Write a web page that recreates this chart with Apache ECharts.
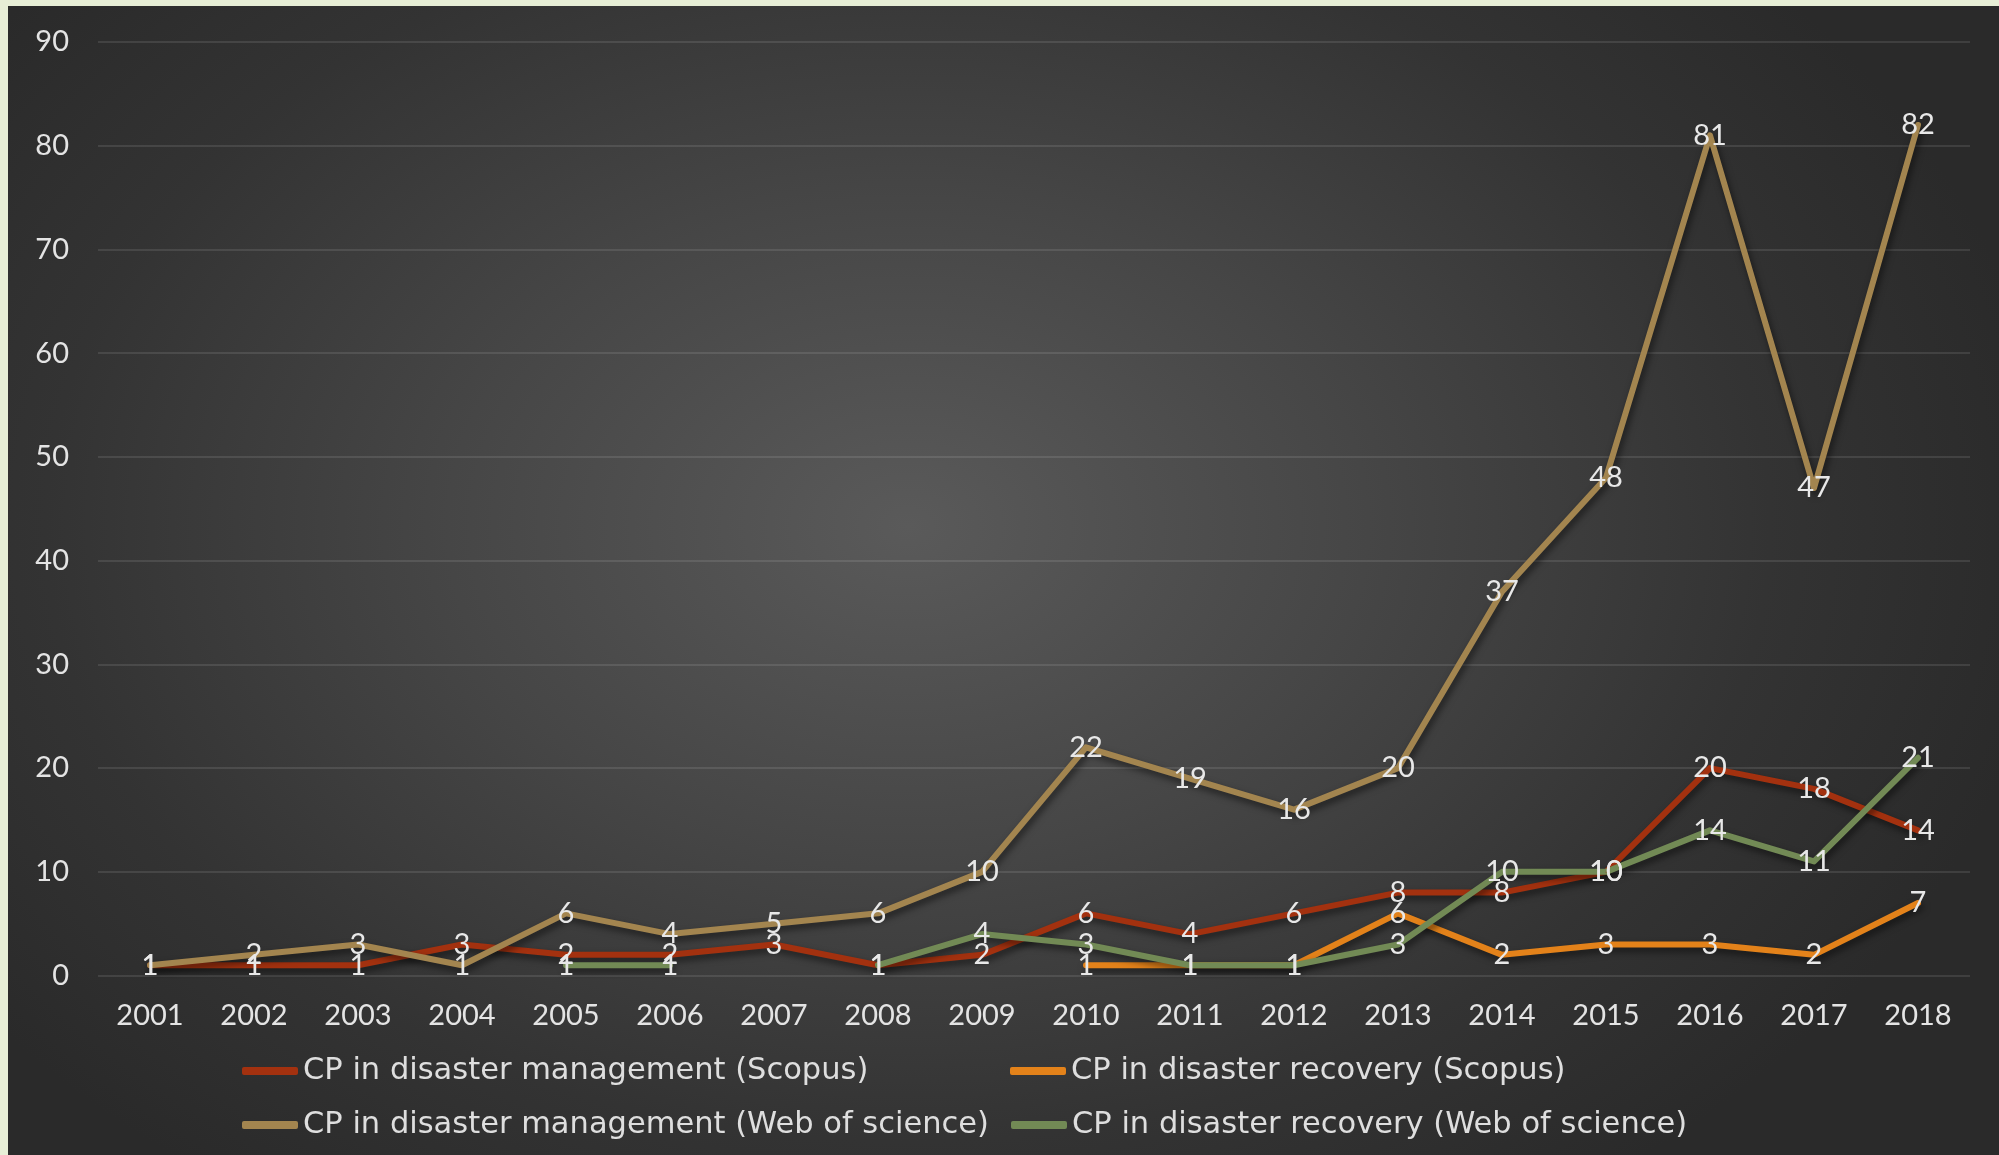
<!DOCTYPE html>
<html>
<head>
<meta charset="utf-8">
<script src="https://cdn.jsdelivr.net/npm/echarts@6/dist/echarts.min.js"></script>
<style>
html,body{margin:0;padding:0;background:#e7eed6;width:1999px;height:1155px;overflow:hidden;}
#bg{position:absolute;left:8px;top:6px;width:1991px;height:1149px;
background:radial-gradient(ellipse 1150px 820px at 900px 520px,#5a5a5a 0%,#464646 40%,#333 75%,#2a2a2a 100%);}
#main{position:absolute;left:0;top:0;width:1999px;height:1155px;}
</style>
</head>
<body>
<div id="bg"></div>
<div id="main"></div>
<script>
const years = ['2001','2002','2003','2004','2005','2006','2007','2008','2009','2010','2011','2012','2013','2014','2015','2016','2017','2018'];
const mgmtScopus = [1,1,1,3,2,2,3,1,2,6,4,6,8,8,10,20,18,14];
const recScopus = [null,null,null,null,null,null,null,null,null,1,1,1,6,2,3,3,2,7];
const mgmtWos = [1,2,3,1,6,4,5,6,10,22,19,16,20,37,48,81,47,82];
const recWos = [null,null,null,null,1,1,null,1,4,3,1,1,3,10,10,14,11,21];
const seriesNames = ['CP in disaster management (Scopus)','CP in disaster recovery (Scopus)','CP in disaster management (Web of science)','CP in disaster recovery (Web of science)'];
const colors = ['#a3310f','#e3821a','#a3854f','#728a55'];
const seriesData = [mgmtScopus, recScopus, mgmtWos, recWos];

const FONT = 'Lato';
const txt = '#e4e4e4';

const chart = echarts.init(document.getElementById('main'), null, {renderer:'canvas'});

const legendPos = [[242,1053],[1010,1053],[242,1107],[1011,1107]];
const legends = seriesNames.map((n,i)=>({
  data:[{name:n, icon:'roundRect', itemStyle:{color:colors[i]}}],
  left:legendPos[i][0], top:legendPos[i][1], orient:'horizontal',
  itemWidth:56, itemHeight:8, padding:0,
  textStyle:{color:'#dedede', fontFamily:'DejaVu Sans', fontSize:30.5, lineHeight:36}
}));

const series = seriesData.map((d,i)=>({
  name:seriesNames[i], type:'line', data:d,
  symbol:'circle', symbolSize:2, showSymbol:true,
  connectNulls:false,
  itemStyle:{color:colors[i]},
  lineStyle:{color:colors[i], width:6, cap:'round', join:'round',
    shadowColor:'rgba(0,0,0,0.55)', shadowBlur:7, shadowOffsetX:2, shadowOffsetY:4},
  label:{show:true, position:'inside', color:'#e8e8e8', fontFamily:FONT, fontSize:29},
  emphasis:{disabled:true},
  animation:false
}));

chart.setOption({
  backgroundColor:'transparent',
  animation:false,
  legend:legends,
  grid:{left:98, right:29, top:42, bottom:1155-975.6, containLabel:false},
  xAxis:{type:'category', data:years, boundaryGap:true,
    axisLine:{show:false}, axisTick:{show:false},
    axisLabel:{color:txt, fontFamily:FONT, fontSize:29, margin:26, interval:0}},
  yAxis:{type:'value', min:0, max:90, interval:10,
    axisLine:{show:false}, axisTick:{show:false},
    axisLabel:{color:txt, fontFamily:FONT, fontSize:29, margin:29},
    splitLine:{lineStyle:{color:'rgba(255,255,255,0.1)', width:2}}},
  series:series
});
</script>
</body>
</html>
